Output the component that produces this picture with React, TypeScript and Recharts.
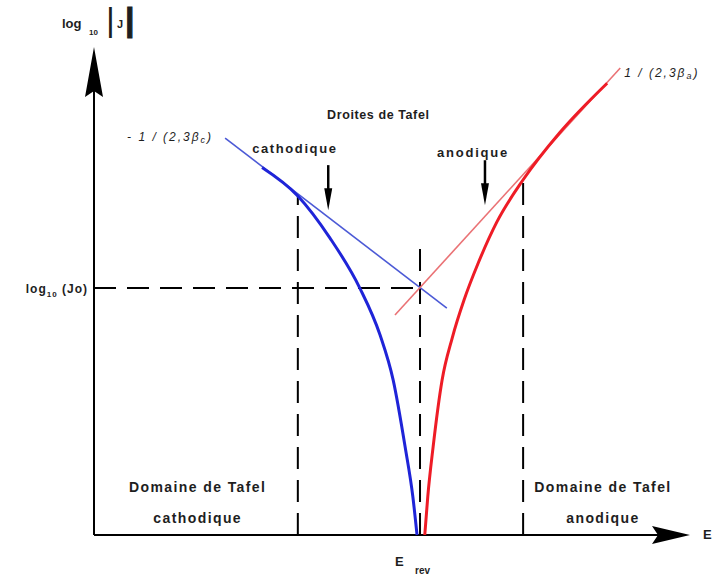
import React from "react";
import {
  ComposedChart,
  Line,
  XAxis,
  YAxis,
  ReferenceLine,
  ReferenceDot,
} from "recharts";

// Potential E and log10|J| in arbitrary units (0..100)
const cathodicE = [28.2, 34.2, 39.6, 44.6, 48.0, 50.2, 52.2, 53.5, 54.2];
const cathodicLogJ = [75.0, 69.2, 60.6, 50.4, 40.8, 31.6, 18.0, 7.8, 0];

const anodicE = [55.5, 56.0, 56.9, 58.4, 60.1, 62.1, 64.4, 67.6, 72.0, 78.2, 86.1];
const anodicLogJ = [0, 7.8, 18.0, 31.6, 40.2, 48.0, 55.3, 63.9, 72.5, 82.2, 92.2];

// Tafel straight lines (slopes -1/(2,3βc) and 1/(2,3βa))
const cathodicTafelE = [22.0, 59.2];
const cathodicTafelLogJ = [81.0, 46.3];
const anodicTafelE = [50.5, 88.3];
const anodicTafelLogJ = [44.9, 95.3];

const E_REV = 54.7;
const LOG_J0 = 50.4;
const tafelBounds = [34.2, 72.0];
const tafelBoundTops = [69.4, 73.5];
const eRevTop = 59.2;

const toPoints = (es: number[], ys: number[]) =>
  es.map((E, i) => ({ E, logJ: ys[i] }));

const cathodic = toPoints(cathodicE, cathodicLogJ);
const anodic = toPoints(anodicE, anodicLogJ);
const cathodicTafel = toPoints(cathodicTafelE, cathodicTafelLogJ);
const anodicTafel = toPoints(anodicTafelE, anodicTafelLogJ);

const ink = "#1e1e1e";
const font = "'Liberation Sans', Arial, Helvetica, sans-serif";
const bold = { fontFamily: font, fontWeight: 700, fill: ink } as const;
const italic = { fontFamily: font, fontStyle: "italic", fill: ink } as const;
const dash = "22 11";

// Arrow heads of the axes
const xArrow = (p: any) => (
  <polygon
    points={`${p.cx},${p.cy} ${p.cx - 38},${p.cy - 9} ${p.cx - 32},${p.cy} ${p.cx - 38},${p.cy + 9}`}
    fill="#000"
  />
);
const yArrow = (p: any) => (
  <polygon
    points={`${p.cx},${p.cy + 2} ${p.cx - 9},${p.cy + 52} ${p.cx},${p.cy + 46} ${p.cx + 9},${p.cy + 52}`}
    fill="#000"
  />
);

// small pointer arrows under "cathodique" / "anodique"
const downArrow = (p: any) => (
  <g>
    <line x1={p.cx} y1={p.cy - 45} x2={p.cx} y2={p.cy - 18} stroke="#000" strokeWidth={2.5} />
    <polygon
      points={`${p.cx - 4},${p.cy - 22} ${p.cx + 4},${p.cy - 22} ${p.cx},${p.cy}`}
      fill="#000"
    />
  </g>
);

const label =
  (text: string, size = 13, spacing = 1.5) =>
  (p: any) => (
    <text
      x={p.cx}
      y={p.cy}
      textAnchor="middle"
      fontSize={size}
      letterSpacing={spacing}
      {...bold}
    >
      {text}
    </text>
  );

const yAxisTitle = (p: any) => (
  <g>
    <text x={p.cx - 32} y={p.cy - 17} fontSize={13} {...bold}>
      log
    </text>
    <text x={p.cx - 5} y={p.cy - 10} fontSize={8} {...bold}>
      10
    </text>
    <text x={p.cx + 12} y={p.cy - 14} fontSize={34} fontFamily={font} fill={ink}>
      |
    </text>
    <text x={p.cx + 23} y={p.cy - 17} fontSize={11} {...bold}>
      J
    </text>
    <text x={p.cx + 31} y={p.cy - 14} fontSize={34} {...bold} stroke={ink} strokeWidth={1}>
      |
    </text>
  </g>
);

const j0Label = (p: any) => (
  <text x={p.cx - 6} y={p.cy + 5} textAnchor="end" fontSize={12} letterSpacing={1} {...bold}>
    log
    <tspan fontSize={8} dy={4}>
      10
    </tspan>
    <tspan dy={-4}> (Jo)</tspan>
  </text>
);

const cathodicSlope = (p: any) => (
  <text x={p.cx - 12} y={p.cy + 3} textAnchor="end" fontSize={12} letterSpacing={2} {...italic}>
    - 1 / (2,3β
    <tspan fontSize={9} dy={2}>
      c
    </tspan>
    <tspan dy={-2}>)</tspan>
  </text>
);

const anodicSlope = (p: any) => (
  <text x={p.cx + 4} y={p.cy + 9} fontSize={12} letterSpacing={2} {...italic}>
    1 / (2,3β
    <tspan fontSize={9} dy={2}>
      a
    </tspan>
    <tspan dy={-2}>)</tspan>
  </text>
);

const domain = (second: string) => (p: any) => (
  <g>
    <text x={p.cx} y={p.cy} textAnchor="middle" fontSize={14} letterSpacing={1.4} {...bold}>
      Domaine de Tafel
    </text>
    <text x={p.cx} y={p.cy + 31} textAnchor="middle" fontSize={14} letterSpacing={1.4} {...bold}>
      {second}
    </text>
  </g>
);

const eRevLabel = (p: any) => (
  <g>
    <text x={p.cx - 25} y={p.cy + 31} fontSize={13} {...bold}>
      E
    </text>
    <text x={p.cx - 5} y={p.cy + 39} fontSize={10} {...bold}>
      rev
    </text>
  </g>
);

const eAxisLabel = (p: any) => (
  <text x={p.cx + 13} y={p.cy + 4} fontSize={13} {...bold}>
    E
  </text>
);

export default function App() {
  return (
    <div
      style={{
        position: "absolute",
        left: 0,
        top: 0,
        width: 713,
        height: 581,
        background: "#fff",
      }}
    >
      <ComposedChart
        width={713}
        height={581}
        margin={{ top: 45, right: 23, bottom: 46, left: 94 }}
      >
        <XAxis dataKey="E" type="number" domain={[0, 100]} hide />
        <YAxis dataKey="logJ" type="number" domain={[0, 100]} hide />

        {/* axes */}
        <ReferenceLine
          segment={[{ x: 0, y: 0 }, { x: 95, y: 0 }]}
          stroke="#000"
          strokeWidth={2}
          ifOverflow="visible"
        />
        <ReferenceLine
          segment={[{ x: 0, y: 0 }, { x: 0, y: 95 }]}
          stroke="#000"
          strokeWidth={2}
          ifOverflow="visible"
        />
        <ReferenceDot x={100} y={0} r={0} shape={xArrow} ifOverflow="visible" />
        <ReferenceDot x={0} y={100} r={0} shape={yArrow} ifOverflow="visible" />

        {/* dashed guides */}
        <ReferenceLine
          segment={[{ x: 0, y: LOG_J0 }, { x: E_REV, y: LOG_J0 }]}
          stroke="#000"
          strokeWidth={2}
          strokeDasharray={dash}
          ifOverflow="visible"
        />
        <ReferenceLine
          segment={[{ x: E_REV, y: 0 }, { x: E_REV, y: eRevTop }]}
          stroke="#000"
          strokeWidth={2}
          strokeDasharray={dash}
          ifOverflow="visible"
        />
        {tafelBounds.map((e, i) => (
          <ReferenceLine
            key={e}
            segment={[{ x: e, y: 0 }, { x: e, y: tafelBoundTops[i] }]}
            stroke="#000"
            strokeWidth={2}
            strokeDasharray={dash}
            ifOverflow="visible"
          />
        ))}

        {/* Tafel lines */}
        <Line
          data={cathodicTafel}
          dataKey="logJ"
          type="linear"
          stroke="#4c5ad6"
          strokeWidth={1.6}
          dot={false}
          isAnimationActive={false}
        />
        <Line
          data={anodicTafel}
          dataKey="logJ"
          type="linear"
          stroke="#ea7275"
          strokeWidth={1.6}
          dot={false}
          isAnimationActive={false}
        />

        {/* polarisation curves */}
        <Line
          data={cathodic}
          dataKey="logJ"
          type="monotone"
          stroke="#1f24d8"
          strokeWidth={3}
          dot={false}
          isAnimationActive={false}
        />
        <Line
          data={anodic}
          dataKey="logJ"
          type="monotone"
          stroke="#ee1c26"
          strokeWidth={3}
          dot={false}
          isAnimationActive={false}
        />

        {/* pointers */}
        <ReferenceDot x={39.3} y={66.3} r={0} shape={downArrow} ifOverflow="visible" />
        <ReferenceDot x={65.6} y={67.3} r={0} shape={downArrow} ifOverflow="visible" />

        {/* texts */}
        <ReferenceDot x={0} y={100} r={0} shape={yAxisTitle} ifOverflow="visible" />
        <ReferenceDot x={0} y={LOG_J0} r={0} shape={j0Label} ifOverflow="visible" />
        <ReferenceDot
          x={cathodicTafelE[0]}
          y={cathodicTafelLogJ[0]}
          r={0}
          shape={cathodicSlope}
          ifOverflow="visible"
        />
        <ReferenceDot
          x={anodicTafelE[1]}
          y={anodicTafelLogJ[1]}
          r={0}
          shape={anodicSlope}
          ifOverflow="visible"
        />
        <ReferenceDot x={47.7} y={84.9} r={0} shape={label("Droites de Tafel", 12.5, 0.6)} ifOverflow="visible" />
        <ReferenceDot x={33.7} y={78.0} r={0} shape={label("cathodique", 13, 1.6)} ifOverflow="visible" />
        <ReferenceDot x={63.6} y={77.1} r={0} shape={label("anodique", 13, 1.8)} ifOverflow="visible" />
        <ReferenceDot x={17.4} y={8.8} r={0} shape={domain("cathodique")} ifOverflow="visible" />
        <ReferenceDot x={85.4} y={8.8} r={0} shape={domain("anodique")} ifOverflow="visible" />
        <ReferenceDot x={E_REV} y={0} r={0} shape={eRevLabel} ifOverflow="visible" />
        <ReferenceDot x={100} y={0} r={0} shape={eAxisLabel} ifOverflow="visible" />
      </ComposedChart>
    </div>
  );
}
